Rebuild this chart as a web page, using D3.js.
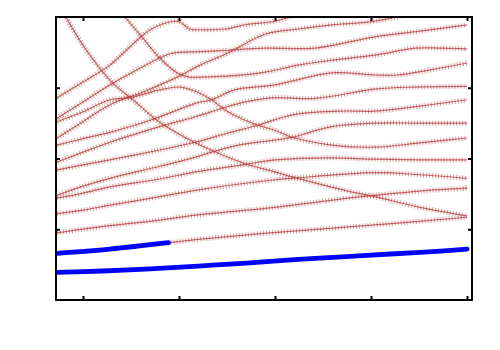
<!DOCTYPE html>
<html>
<head>
<meta charset="utf-8">
<script src="https://cdn.jsdelivr.net/npm/d3@7"></script>
<style>
  body { margin: 0; background: #fff; }
  svg { display: block; }
</style>
</head>
<body>
<div id="chart-container"></div>
<script>
// band data, [k, E] pairs
const bandT = [[-0.27,2.86],[0,3.08],[0.28,3.32],[0.49,3.58],[0.70,3.82],[0.94,3.94],[1.01,3.93],[1.11,3.83],[1.22,3.82],[1.48,3.83],[1.69,3.89],[2.0,3.94],[2.16,4.0],[2.36,4.06]];
const bandA = [[-0.24,4.13],[-0.18,4.0],[0.02,3.56],[0.30,3.08],[0.52,2.83],[0.77,2.54],[0.98,2.36],[1.22,2.19],[1.66,1.94],[2.0,1.81],[2.18,1.74],[2.76,1.54],[3.04,1.46],[3.51,1.31],[4.0,1.19]];
const bandB = [[0.36,4.17],[0.44,4.0],[0.625,3.70],[0.80,3.42],[0.98,3.21],[1.11,3.15],[1.22,3.15],[1.58,3.17],[1.90,3.22],[2.24,3.32],[2.59,3.39],[3.04,3.46],[3.46,3.56],[3.72,3.56],[4.0,3.55]];
const bandC = [[-0.27,2.57],[0,2.80],[0.28,3.04],[0.56,3.25],[0.91,3.48],[1.22,3.51],[1.51,3.53],[1.90,3.56],[2.42,3.56],[3.04,3.72],[3.51,3.80],[4.0,3.89]];
const bandD = [[-0.27,2.29],[0,2.52],[0.28,2.76],[0.625,2.94],[0.98,3.15],[1.22,3.32],[1.51,3.49],[1.90,3.76],[2.24,3.83],[2.59,3.89],[2.99,3.93],[3.27,4.0],[3.51,4.07]];
const bandE = [[-0.27,2.52],[0,2.66],[0.28,2.83],[0.49,2.86],[0.80,2.97],[1.01,3.01],[1.17,2.95],[1.34,2.83],[1.51,2.66],[1.82,2.47],[2.0,2.40],[2.18,2.30],[2.59,2.19],[3.04,2.16],[3.51,2.22],[4.0,2.29]];
const bandF = [[-0.27,2.19],[0,2.28],[0.28,2.37],[0.70,2.54],[1.17,2.78],[1.34,2.83],[1.58,2.97],[2.0,3.04],[2.59,3.21],[3.04,3.18],[3.28,3.18],[3.61,3.25],[4.0,3.35]];
const bandG = [[-0.27,1.95],[0,2.09],[0.28,2.23],[0.80,2.45],[1.17,2.59],[1.45,2.71],[1.69,2.80],[2.0,2.86],[2.42,2.85],[3.04,2.98],[3.46,3.01],[4.0,3.02]];
const bandH = [[-0.27,1.84],[0,1.91],[0.28,1.98],[0.80,2.12],[1.17,2.23],[1.51,2.36],[1.82,2.47],[2.0,2.55],[2.24,2.63],[2.68,2.67],[3.04,2.67],[3.51,2.74],[4.0,2.83]];
const bandI = [[-0.27,1.48],[0,1.61],[0.28,1.72],[0.80,1.89],[1.17,2.02],[1.34,2.09],[1.66,2.20],[2.0,2.26],[2.18,2.30],[2.59,2.45],[3.04,2.50],[3.51,2.50],[4.0,2.50]];
const bandJ = [[-0.27,1.44],[0,1.51],[0.28,1.60],[0.80,1.71],[1.17,1.81],[1.66,1.91],[2.0,1.98],[2.59,2.01],[3.04,1.99],[3.51,1.98],[4.0,1.98]];
const bandK = [[-0.27,1.22],[0,1.27],[0.28,1.34],[0.80,1.46],[1.17,1.55],[2.0,1.70],[2.18,1.72],[3.04,1.80],[3.51,1.77],[4.0,1.72]];
const bandL = [[-0.27,0.95],[0.28,1.05],[0.80,1.13],[1.17,1.20],[2.0,1.31],[2.76,1.44],[3.04,1.48],[3.51,1.54],[4.0,1.58]];
const bandM = [[-0.27,0.66],[0.28,0.72],[0.89,0.81],[1.22,0.86],[1.95,0.95],[2.94,1.05],[4.0,1.17]];

// thick blue curves
const blueUpper = [[-0.27,0.66],[0.28,0.72],[0.89,0.81]];
const blueLower = [[-0.27,0.39],[0.2,0.41],[0.7,0.44],[1.2,0.48],[1.7,0.52],[2.2,0.57],[2.7,0.61],[3.2,0.65],[3.6,0.68],[4.0,0.72]];

const xTicks = [0, 1, 2, 3, 4];
const yTicks = [1, 2, 3];

const redBands = [bandT, bandA, bandB, bandC, bandD, bandE, bandF, bandG, bandH, bandI, bandJ, bandK, bandL, bandM];

const margin = { top: 17, right: 28, bottom: 50, left: 56 };
const width = 500 - margin.left - margin.right;
const height = 350 - margin.top - margin.bottom;

const x = d3.scaleLinear().domain([-0.281, 4.052]).range([0, width]);
const y = d3.scaleLinear().domain([0, 4]).range([height, 0]);

const svg = d3.select("#chart-container")
    .append("svg")
    .attr("width", 500)
    .attr("height", 350)
    .append("g")
    .attr("transform", `translate(${margin.left},${margin.top})`);

svg.append("clipPath")
    .attr("id", "plot-clip")
    .append("rect")
    .attr("width", width)
    .attr("height", height);

const line = d3.line()
    .x(d => x(d[0]))
    .y(d => y(d[1]))
    .curve(d3.curveCatmullRom.alpha(0.5));

const plot = svg.append("g").attr("clip-path", "url(#plot-clip)");

// red "+" markers: a dashed wide stroke for the vertical bars, thin line for the horizontal bars
plot.selectAll(".band-bars")
    .data(redBands)
    .enter().append("path")
    .attr("fill", "none")
    .attr("stroke", "#c85a5a")
    .attr("stroke-opacity", 0.6)
    .attr("stroke-width", 5)
    .attr("stroke-dasharray", "1 2")
    .attr("d", line);

plot.selectAll(".band-core")
    .data(redBands)
    .enter().append("path")
    .attr("fill", "none")
    .attr("stroke", "#b23a3a")
    .attr("stroke-opacity", 0.75)
    .attr("stroke-width", 1.2)
    .attr("d", line);

plot.selectAll(".blue")
    .data([blueLower, blueUpper])
    .enter().append("path")
    .attr("fill", "none")
    .attr("stroke", "#0000ff")
    .attr("stroke-width", 4.8)
    .attr("stroke-linecap", "round")
    .attr("d", line);

// frame
svg.append("rect")
    .attr("width", width)
    .attr("height", height)
    .attr("fill", "none")
    .attr("stroke", "#000")
    .attr("stroke-width", 2);

// inward ticks on all four sides, no labels
const tickLen = 4;
svg.append("g")
    .attr("transform", `translate(0,${height})`)
    .call(d3.axisBottom(x).tickValues(xTicks).tickSize(-tickLen).tickFormat(""))
    .call(g => g.select(".domain").remove())
    .selectAll("line").attr("stroke-width", 2);
svg.append("g")
    .call(d3.axisTop(x).tickValues(xTicks).tickSize(-tickLen).tickFormat(""))
    .call(g => g.select(".domain").remove())
    .selectAll("line").attr("stroke-width", 2);
svg.append("g")
    .call(d3.axisLeft(y).tickValues(yTicks).tickSize(-tickLen).tickFormat(""))
    .call(g => g.select(".domain").remove())
    .selectAll("line").attr("stroke-width", 2);
svg.append("g")
    .attr("transform", `translate(${width},0)`)
    .call(d3.axisRight(y).tickValues(yTicks).tickSize(-tickLen).tickFormat(""))
    .call(g => g.select(".domain").remove())
    .selectAll("line").attr("stroke-width", 2);
</script>
</body>
</html>
